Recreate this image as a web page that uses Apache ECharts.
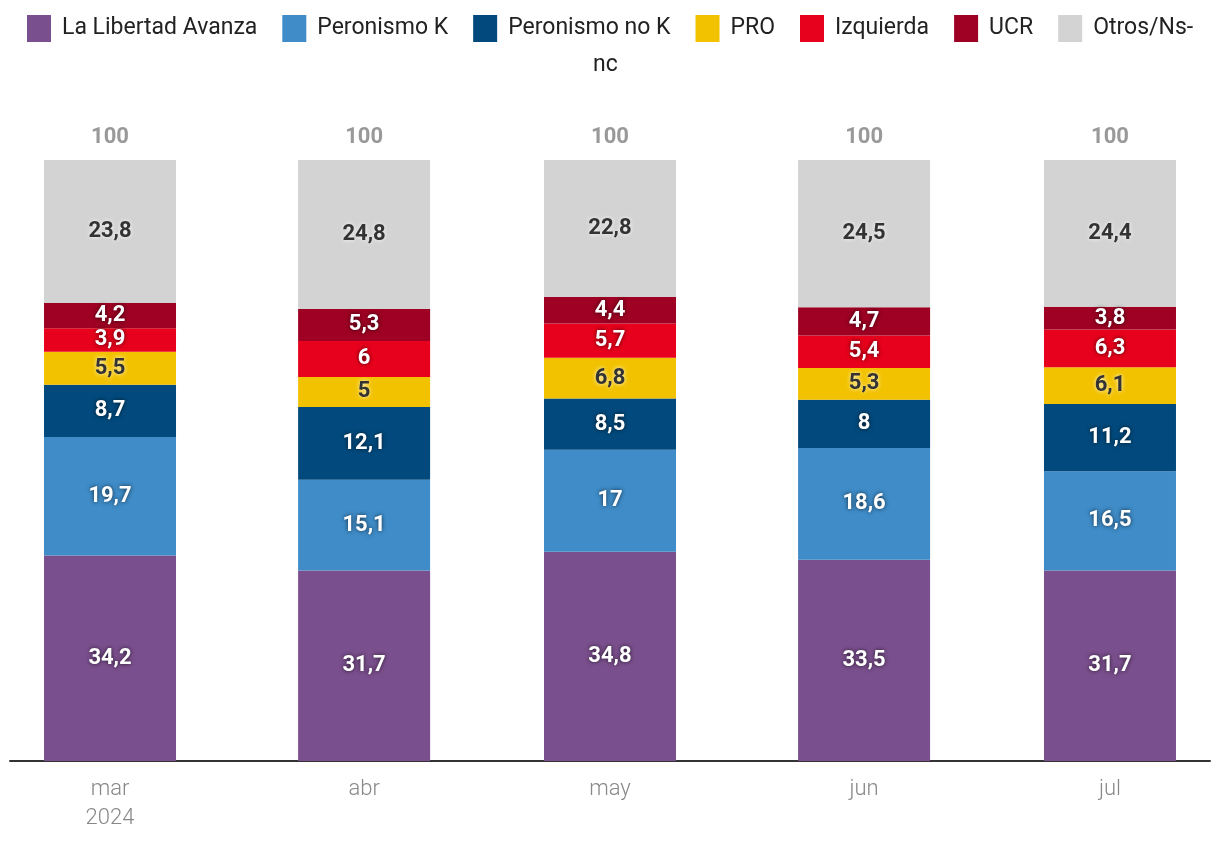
<!DOCTYPE html>
<html><head><meta charset="utf-8">
<script src="https://cdn.jsdelivr.net/npm/echarts@6/dist/echarts.min.js"></script>
<style>html,body{margin:0;padding:0;background:#fff}#c{width:1220px;height:854px}</style>
</head><body><div id="c"></div>
<script>
const months = ['2024-03-01','2024-04-01','2024-05-01','2024-06-01','2024-07-01'];
const tickLabels = ['mar\n2024','abr','may','jun','jul'];
const seriesNames = ['La Libertad Avanza','Peronismo K','Peronismo no K','PRO','Izquierda','UCR','Otros/Ns-nc'];
const lla = [34.2,31.7,34.8,33.5,31.7];
const perK = [19.7,15.1,17,18.6,16.5];
const perNoK = [8.7,12.1,8.5,8,11.2];
const pro = [5.5,5,6.8,5.3,6.1];
const izq = [3.9,6,5.7,5.4,6.3];
const ucr = [4.2,5.3,4.4,4.7,3.8];
const otros = [23.8,24.8,22.8,24.5,24.4];
const colors = ['#7a4f8d','#3f8cc8','#024a7d','#f2c200','#e8011c','#9e0123','#d3d3d3'];
const darkText = [false,false,false,true,false,false,true];

const allVals = [lla,perK,perNoK,pro,izq,ucr,otros];
function ts(s){const p=s.split('-');return new Date(+p[0],+p[1]-1,+p[2]).getTime();}
const day = 86400000;
const xs = months.map(ts);
const totals = xs.map((x,i)=>Math.round(allVals.reduce((a,v)=>a+v[i],0)));
const fmt = v => String(Math.round(v*10)/10).replace('.',',');

const series = allVals.map((vals,k)=>({
  name: seriesNames[k], type:'bar', stack:'t', barWidth:132,
  itemStyle:{color:colors[k]},
  data: vals.map((v,i)=>[xs[i],v]),
  label:{show:true, position:'inside', fontFamily:'Roboto', fontWeight:'bold', fontSize:22,
    color: darkText[k] ? '#333' : '#fff',
    textShadowColor: darkText[k] ? 'rgba(255,255,255,0.9)' : 'rgba(0,0,0,0.7)',
    textShadowBlur: 4,
    formatter: p => fmt(p.value[1])},
  emphasis:{disabled:true}
}));
series.push({
  name:'total', type:'scatter', symbolSize:0, data: totals.map((t,i)=>[xs[i],t]),
  label:{show:true, position:'top', distance:12, fontFamily:'Roboto', fontWeight:'bold', fontSize:22, color:'#808080',
    formatter: p => fmt(p.value[1])},
  silent:true
});

const chart = echarts.init(document.getElementById('c'));
chart.setOption({
  animation:false,
  title:{text:'nc', left:588, top:49, textStyle:{fontFamily:'Roboto', fontWeight:'normal', fontSize:23, color:'#222'}},
  legend:{data:seriesNames, left:27, top:15, padding:0, itemWidth:24, itemHeight:27, itemGap:25,
    icon:'rect', selectedMode:false,
    formatter: n => n==='Otros/Ns-nc' ? 'Otros/Ns-' : n,
    textStyle:{fontFamily:'Roboto', fontSize:23, color:'#222', padding:[0,0,0,6]}},
  grid:{left:10, right:10, top:160, bottom:93, containLabel:false},
  xAxis:{type:'time', min: xs[0]-4.15*day, max: xs[4]+4.15*day,
    minInterval: 28*day, maxInterval: 31*day,
    axisLine:{show:true, lineStyle:{color:'#333', width:2}},
    axisTick:{show:false}, splitLine:{show:false},
    axisLabel:{margin:14, fontFamily:'Roboto', fontWeight:300, fontSize:22, lineHeight:29, color:'#888',
      formatter:(v)=>{const i=xs.indexOf(v);return i>=0?tickLabels[i]:'';}}},
  yAxis:{type:'value', min:0, max:100, show:false},
  series
});
</script></body></html>
